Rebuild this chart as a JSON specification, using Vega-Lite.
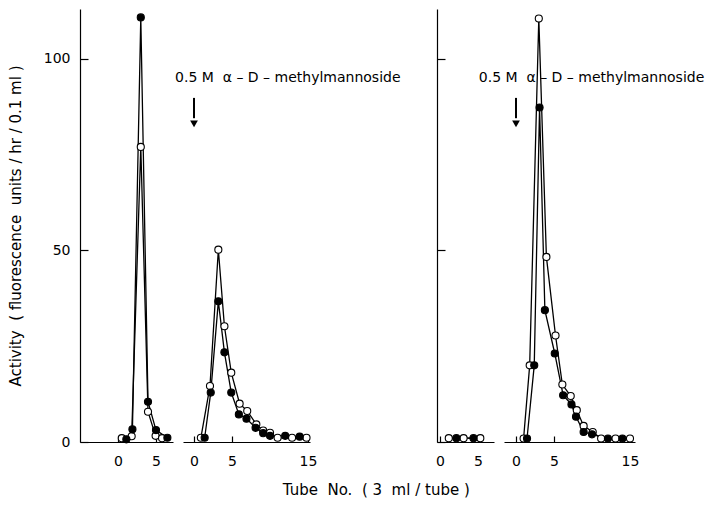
{
  "$schema": "https://vega.github.io/schema/vega-lite/v6.json",
  "description": "Activity of fractions, before and after elution with 0.5 M alpha-D-methylmannoside",
  "padding": {"left": 8, "top": 9, "right": 5, "bottom": 5},
  "datasets": {
    "pts": [
      {"seg": 1, "series": "open", "tube": 0.5, "activity": 1.0},
      {"seg": 1, "series": "open", "tube": 1.8, "activity": 1.5},
      {"seg": 1, "series": "open", "tube": 3.0, "activity": 77},
      {"seg": 1, "series": "open", "tube": 3.95, "activity": 7.9},
      {"seg": 1, "series": "open", "tube": 4.95, "activity": 1.6},
      {"seg": 1, "series": "open", "tube": 5.8, "activity": 1.0},
      {"seg": 1, "series": "filled", "tube": 1.1, "activity": 0.7},
      {"seg": 1, "series": "filled", "tube": 1.9, "activity": 3.3},
      {"seg": 1, "series": "filled", "tube": 3.0, "activity": 110.8},
      {"seg": 1, "series": "filled", "tube": 3.95, "activity": 10.5},
      {"seg": 1, "series": "filled", "tube": 5.0, "activity": 3.1},
      {"seg": 1, "series": "filled", "tube": 6.5, "activity": 1.1},

      {"seg": 2, "series": "open", "tube": 0.9, "activity": 1.1},
      {"seg": 2, "series": "open", "tube": 2.1, "activity": 14.6},
      {"seg": 2, "series": "open", "tube": 3.2, "activity": 50.2},
      {"seg": 2, "series": "open", "tube": 4.0, "activity": 30.2},
      {"seg": 2, "series": "open", "tube": 4.9, "activity": 18.1},
      {"seg": 2, "series": "open", "tube": 6.0, "activity": 10.0},
      {"seg": 2, "series": "open", "tube": 7.0, "activity": 8.1},
      {"seg": 2, "series": "open", "tube": 8.2, "activity": 4.6},
      {"seg": 2, "series": "open", "tube": 9.1, "activity": 3.0},
      {"seg": 2, "series": "open", "tube": 10.0, "activity": 2.4},
      {"seg": 2, "series": "open", "tube": 11.0, "activity": 1.1},
      {"seg": 2, "series": "open", "tube": 12.9, "activity": 1.1},
      {"seg": 2, "series": "open", "tube": 14.8, "activity": 1.1},
      {"seg": 2, "series": "filled", "tube": 1.4, "activity": 1.1},
      {"seg": 2, "series": "filled", "tube": 2.2, "activity": 12.9},
      {"seg": 2, "series": "filled", "tube": 3.2, "activity": 36.7},
      {"seg": 2, "series": "filled", "tube": 4.0, "activity": 23.4},
      {"seg": 2, "series": "filled", "tube": 4.9, "activity": 12.9},
      {"seg": 2, "series": "filled", "tube": 5.9, "activity": 7.2},
      {"seg": 2, "series": "filled", "tube": 6.9, "activity": 6.1},
      {"seg": 2, "series": "filled", "tube": 8.1, "activity": 3.7},
      {"seg": 2, "series": "filled", "tube": 9.1, "activity": 2.3},
      {"seg": 2, "series": "filled", "tube": 10.0, "activity": 1.6},
      {"seg": 2, "series": "filled", "tube": 12.0, "activity": 1.6},
      {"seg": 2, "series": "filled", "tube": 13.9, "activity": 1.4},

      {"seg": 3, "series": "open", "tube": 1.15, "activity": 1.0},
      {"seg": 3, "series": "open", "tube": 3.1, "activity": 1.0},
      {"seg": 3, "series": "open", "tube": 5.3, "activity": 1.0},
      {"seg": 3, "series": "filled", "tube": 2.15, "activity": 1.0},
      {"seg": 3, "series": "filled", "tube": 4.4, "activity": 1.0},

      {"seg": 4, "series": "open", "tube": 1.0, "activity": 0.9},
      {"seg": 4, "series": "open", "tube": 1.8, "activity": 20},
      {"seg": 4, "series": "open", "tube": 3.0, "activity": 110.5},
      {"seg": 4, "series": "open", "tube": 4.0, "activity": 48.3},
      {"seg": 4, "series": "open", "tube": 5.2, "activity": 27.8},
      {"seg": 4, "series": "open", "tube": 6.1, "activity": 15.0},
      {"seg": 4, "series": "open", "tube": 7.2, "activity": 12.0},
      {"seg": 4, "series": "open", "tube": 8.0, "activity": 8.3},
      {"seg": 4, "series": "open", "tube": 8.9, "activity": 4.2},
      {"seg": 4, "series": "open", "tube": 10.1, "activity": 2.6},
      {"seg": 4, "series": "open", "tube": 11.2, "activity": 0.9},
      {"seg": 4, "series": "open", "tube": 13.1, "activity": 0.9},
      {"seg": 4, "series": "open", "tube": 15.0, "activity": 0.9},
      {"seg": 4, "series": "filled", "tube": 1.45, "activity": 0.9},
      {"seg": 4, "series": "filled", "tube": 2.4, "activity": 20},
      {"seg": 4, "series": "filled", "tube": 3.1, "activity": 87.3},
      {"seg": 4, "series": "filled", "tube": 3.8, "activity": 34.4},
      {"seg": 4, "series": "filled", "tube": 5.1, "activity": 23.1},
      {"seg": 4, "series": "filled", "tube": 6.2, "activity": 12.2},
      {"seg": 4, "series": "filled", "tube": 7.3, "activity": 9.8},
      {"seg": 4, "series": "filled", "tube": 7.9, "activity": 6.6},
      {"seg": 4, "series": "filled", "tube": 8.9, "activity": 2.6},
      {"seg": 4, "series": "filled", "tube": 10.0, "activity": 2.0},
      {"seg": 4, "series": "filled", "tube": 12.1, "activity": 0.9},
      {"seg": 4, "series": "filled", "tube": 14.0, "activity": 0.9}
    ],
    "notes": [
      {"seg": 2, "tube": -2.5, "activity": 95, "label": "0.5 M\u00a0 α – D – methylmannoside", "top": 89.8, "shaft": 84.5, "head": 83},
      {"seg": 4, "tube": -4.9, "activity": 95, "label": "0.5 M\u00a0 α – D – methylmannoside", "top": 89.8, "shaft": 84.5, "head": 83}
    ]
  },
  "data": {"name": "pts"},
  "title": {
    "text": "Tube\u00a0 No.\u00a0 ( 3\u00a0 ml / tube )",
    "orient": "bottom",
    "anchor": "middle",
    "offset": 15,
    "dx": 20,
    "font": "DejaVu Sans",
    "fontSize": 15,
    "fontWeight": "normal",
    "color": "black"
  },
  "spacing": 10,
  "bounds": "flush",
  "hconcat": [
    {
      "width": 93,
      "height": 433,
      "transform": [{"filter": "datum.seg == 1"}],
      "encoding": {
        "x": {"field": "tube", "type": "quantitative",
              "scale": {"domain": [-5, 7.24], "nice": false, "zero": false},
              "axis": {"values": [0, 5], "title": null}},
        "y": {"field": "activity", "type": "quantitative",
              "scale": {"domain": [0, 113], "nice": false},
              "axis": {"values": [0, 50, 100], "title": "Activity\u00a0 ( fluorescence\u00a0 units / hr / 0.1 ml )", "labelPadding": 18, "titlePadding": 20, "titleFontSize": 15}}
      },
      "layer": [
        {"mark": {"type": "line", "color": "black", "strokeWidth": 1.3}, "encoding": {"detail": {"field": "series"}}},
        {"mark": {"type": "point", "filled": true, "size": 50, "stroke": "black", "strokeWidth": 1.1, "opacity": 1},
         "encoding": {"fill": {"field": "series", "type": "nominal", "scale": {"domain": ["open", "filled"], "range": ["white", "black"]}, "legend": null}}}
      ]
    },
    {
      "width": 127,
      "height": 433,
      "encoding": {
        "x": {"field": "tube", "type": "quantitative",
              "scale": {"domain": [-1.45, 15.26], "nice": false, "zero": false},
              "axis": {"values": [0, 5, 15], "title": null}},
        "y": {"field": "activity", "type": "quantitative",
              "scale": {"domain": [0, 113], "nice": false}, "axis": null}
      },
      "layer": [
        {"transform": [{"filter": "datum.seg == 2"}],
         "mark": {"type": "line", "color": "black", "strokeWidth": 1.3}, "encoding": {"detail": {"field": "series"}}},
        {"transform": [{"filter": "datum.seg == 2"}],
         "mark": {"type": "point", "filled": true, "size": 50, "stroke": "black", "strokeWidth": 1.1, "opacity": 1},
         "encoding": {"fill": {"field": "series", "type": "nominal", "scale": {"domain": ["open", "filled"], "range": ["white", "black"]}, "legend": null}}},
        {"data": {"name": "notes"}, "transform": [{"filter": "datum.seg == 2"}],
         "mark": {"type": "text", "align": "left", "baseline": "middle", "font": "DejaVu Sans", "fontSize": 14, "color": "black"},
         "encoding": {"text": {"field": "label"}}},
        {"data": {"name": "notes"}, "transform": [{"filter": "datum.seg == 2"}],
         "mark": {"type": "rule", "color": "black", "strokeWidth": 2},
         "encoding": {"x": {"datum": 0}, "y": {"field": "top"}, "y2": {"field": "shaft"}}},
        {"data": {"name": "notes"}, "transform": [{"filter": "datum.seg == 2"}],
         "mark": {"type": "point", "shape": "triangle-down", "filled": true, "color": "black", "size": 60, "opacity": 1},
         "encoding": {"x": {"datum": 0}, "y": {"field": "head"}}}
      ]
    },
    {
      "width": 107,
      "height": 433,
      "transform": [{"filter": "datum.seg == 3"}],
      "mark": {"type": "point", "opacity": 0},
      "encoding": {
        "x": {"field": "tube", "type": "quantitative", "axis": null},
        "y": {"field": "activity", "type": "quantitative", "scale": {"domain": [0, 113]}, "axis": null}
      }
    },
    {
      "width": 57,
      "height": 433,
      "transform": [{"filter": "datum.seg == 3"}],
      "encoding": {
        "x": {"field": "tube", "type": "quantitative",
              "scale": {"domain": [-0.4, 7.1], "nice": false, "zero": false},
              "axis": {"values": [0, 5], "title": null}},
        "y": {"field": "activity", "type": "quantitative",
              "scale": {"domain": [0, 113], "nice": false},
              "axis": {"values": [0, 50, 100], "title": null, "labels": false}}
      },
      "layer": [
        {"mark": {"type": "line", "color": "black", "strokeWidth": 1.3}, "encoding": {"detail": {"field": "series"}}},
        {"mark": {"type": "point", "filled": true, "size": 50, "stroke": "black", "strokeWidth": 1.1, "opacity": 1},
         "encoding": {"fill": {"field": "series", "type": "nominal", "scale": {"domain": ["open", "filled"], "range": ["white", "black"]}, "legend": null}}}
      ]
    },
    {
      "width": 131,
      "height": 433,
      "encoding": {
        "x": {"field": "tube", "type": "quantitative",
              "scale": {"domain": [-1.58, 15.66], "nice": false, "zero": false},
              "axis": {"values": [0, 5, 15], "title": null}},
        "y": {"field": "activity", "type": "quantitative",
              "scale": {"domain": [0, 113], "nice": false}, "axis": null}
      },
      "layer": [
        {"transform": [{"filter": "datum.seg == 4"}],
         "mark": {"type": "line", "color": "black", "strokeWidth": 1.3}, "encoding": {"detail": {"field": "series"}}},
        {"transform": [{"filter": "datum.seg == 4"}],
         "mark": {"type": "point", "filled": true, "size": 50, "stroke": "black", "strokeWidth": 1.1, "opacity": 1},
         "encoding": {"fill": {"field": "series", "type": "nominal", "scale": {"domain": ["open", "filled"], "range": ["white", "black"]}, "legend": null}}},
        {"data": {"name": "notes"}, "transform": [{"filter": "datum.seg == 4"}],
         "mark": {"type": "text", "align": "left", "baseline": "middle", "font": "DejaVu Sans", "fontSize": 14, "color": "black"},
         "encoding": {"text": {"field": "label"}}},
        {"data": {"name": "notes"}, "transform": [{"filter": "datum.seg == 4"}],
         "mark": {"type": "rule", "color": "black", "strokeWidth": 2},
         "encoding": {"x": {"datum": 0}, "y": {"field": "top"}, "y2": {"field": "shaft"}}},
        {"data": {"name": "notes"}, "transform": [{"filter": "datum.seg == 4"}],
         "mark": {"type": "point", "shape": "triangle-down", "filled": true, "color": "black", "size": 60, "opacity": 1},
         "encoding": {"x": {"datum": 0}, "y": {"field": "head"}}}
      ]
    }
  ],
  "config": {
    "view": {"stroke": null},
    "font": "DejaVu Sans",
    "axis": {
      "grid": false,
      "domainColor": "black",
      "domainWidth": 1.2,
      "tickColor": "black",
      "tickWidth": 1.2,
      "tickSize": -8,
      "labelColor": "black",
      "labelFont": "DejaVu Sans",
      "labelFontSize": 14,
      "labelPadding": 18,
      "titleColor": "black",
      "titleFont": "DejaVu Sans",
      "titleFontSize": 14,
      "titleFontWeight": "normal"
    },
    "axisX": {"tickSize": -6, "labelPadding": 18}
  }
}
